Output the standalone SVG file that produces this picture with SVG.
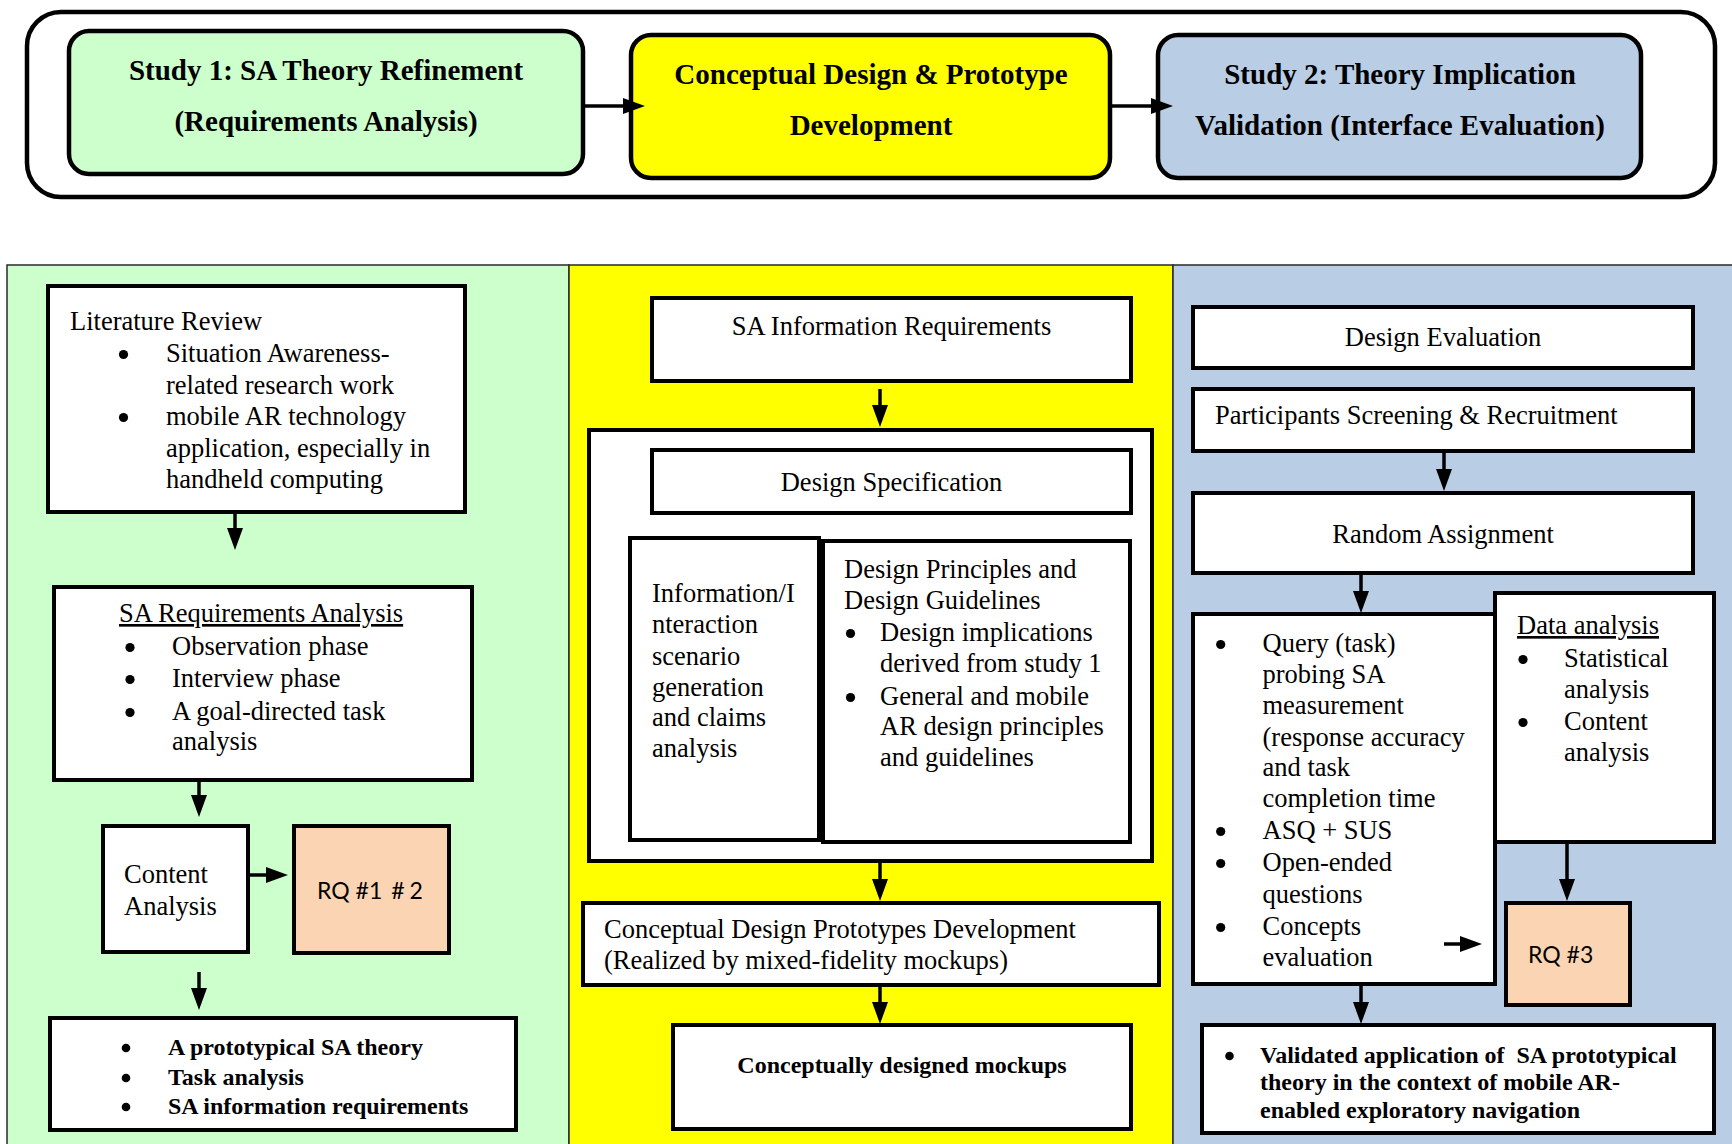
<svg xmlns="http://www.w3.org/2000/svg" width="1732" height="1144" viewBox="0 0 1732 1144">
  <style>
    .t { font-family: "Liberation Serif", "Times New Roman", serif; font-size: 26.5px; fill: #000; }
    .b { font-family: "Liberation Serif", "Times New Roman", serif; font-size: 24px; font-weight: bold; fill: #000; }
    .h { font-family: "Liberation Serif", "Times New Roman", serif; font-size: 29px; font-weight: bold; fill: #000; text-anchor: middle; }
    .rqt { font-family: Lato, "Open Sans", sans-serif; font-size: 23px; fill: #000; }
    .c { text-anchor: middle; }
    .u { text-decoration: underline; }
    .dot { fill: #000; }
    .box { fill: #fff; stroke: #000; stroke-width: 4; }
    .rq { fill: #FBD4B4; stroke: #000; stroke-width: 4; }
    .col { stroke: #2a2a2a; stroke-width: 1.5; }
    .phase { stroke: #000; stroke-width: 4.5; }
    .conn line { stroke: #000; stroke-width: 3.5; marker-end: url(#arrow); }
  </style>
  <defs>
    <marker id="arrow" markerUnits="userSpaceOnUse" markerWidth="22" markerHeight="16" refX="1" refY="8" orient="auto">
      <path d="M0,0 L22,8 L0,16 z" fill="#000"/>
    </marker>
  </defs>

  <rect width="1732" height="1144" fill="#fff"/>

  <!-- Phase overview strip -->
  <g id="phases">
    <rect x="27" y="12" width="1688" height="185" rx="34" fill="#fff" class="phase"/>
    <g id="phase-study1">
      <rect x="69" y="31" width="514" height="143" rx="20" fill="#CCFFCC" class="phase"/>
      <text class="h" x="326" y="80">Study 1: SA Theory Refinement</text>
      <text class="h" x="326" y="131">(Requirements Analysis)</text>
    </g>
    <g id="phase-design">
      <rect x="631" y="35" width="479" height="143" rx="20" fill="#FFFF00" class="phase"/>
      <text class="h" x="871" y="84">Conceptual Design &amp; Prototype</text>
      <text class="h" x="871" y="135">Development</text>
    </g>
    <g id="phase-study2">
      <rect x="1158" y="35" width="483" height="143" rx="20" fill="#B9CDE5" class="phase"/>
      <text class="h" x="1400" y="84">Study 2: Theory Implication</text>
      <text class="h" x="1400" y="135">Validation (Interface Evaluation)</text>
    </g>
  </g>

  <!-- Column backgrounds -->
  <g id="columns">
    <rect x="7" y="265" width="562" height="890" fill="#CCFFCC" class="col"/>
    <rect x="569" y="265" width="604" height="890" fill="#FFFF00" class="col"/>
    <rect x="1173" y="265" width="570" height="890" fill="#B9CDE5" class="col"/>
  </g>

  <!-- Study 1 column -->
  <g id="literature-review">
    <rect x="48" y="286" width="417" height="226" class="box"/>
    <text class="t" x="70" y="330">Literature Review</text>
    <circle class="dot" cx="123.5" cy="354.5" r="4.6"/>
    <text class="t" x="166" y="362">Situation Awareness-</text>
    <text class="t" x="166" y="393.5">related research work</text>
    <circle class="dot" cx="123.5" cy="417.5" r="4.6"/>
    <text class="t" x="166" y="425">mobile AR technology</text>
    <text class="t" x="166" y="456.5">application, especially in</text>
    <text class="t" x="166" y="488">handheld computing</text>
  </g>
  <g id="sa-requirements-analysis">
    <rect x="54" y="587" width="418" height="193" class="box"/>
    <text class="t u" x="119" y="622">SA Requirements Analysis</text>
    <circle class="dot" cx="130" cy="647.5" r="4.6"/>
    <text class="t" x="172" y="655">Observation phase</text>
    <circle class="dot" cx="130" cy="679.5" r="4.6"/>
    <text class="t" x="172" y="687">Interview phase</text>
    <circle class="dot" cx="130" cy="712.5" r="4.6"/>
    <text class="t" x="172" y="720">A goal-directed task</text>
    <text class="t" x="172" y="750">analysis</text>
  </g>
  <g id="content-analysis">
    <rect x="103" y="826" width="145" height="126" class="box"/>
    <text class="t" x="124" y="883">Content</text>
    <text class="t" x="124" y="915">Analysis</text>
  </g>
  <g id="rq-1-2">
    <rect x="294" y="826" width="155" height="127" class="rq"/>
    <text class="rqt" x="317" y="899">RQ #1<tspan dx="9">#</tspan><tspan dx="5">2</tspan></text>
  </g>
  <g id="study1-outcomes">
    <rect x="50" y="1018" width="466" height="112" class="box"/>
    <circle class="dot" cx="126" cy="1048" r="4.3"/>
    <text class="b" x="168" y="1055">A prototypical SA theory</text>
    <circle class="dot" cx="126" cy="1078" r="4.3"/>
    <text class="b" x="168" y="1085">Task analysis</text>
    <circle class="dot" cx="126" cy="1107" r="4.3"/>
    <text class="b" x="168" y="1114">SA information requirements</text>
  </g>

  <!-- Design column -->
  <g id="sa-information-requirements">
    <rect x="652" y="298" width="479" height="83" class="box"/>
    <text class="t c" x="891.5" y="335">SA Information Requirements</text>
  </g>
  <g id="design-container">
    <rect x="589" y="430" width="563" height="431" class="box"/>
  </g>
  <g id="design-specification">
    <rect x="652" y="450" width="479" height="63" class="box"/>
    <text class="t c" x="891.5" y="491">Design Specification</text>
  </g>
  <g id="interaction-scenarios">
    <rect x="630" y="538" width="189" height="302" class="box"/>
    <text class="t" x="652" y="602">Information/I</text>
    <text class="t" x="652" y="633">nteraction</text>
    <text class="t" x="652" y="665">scenario</text>
    <text class="t" x="652" y="696">generation</text>
    <text class="t" x="652" y="726">and claims</text>
    <text class="t" x="652" y="757">analysis</text>
  </g>
  <g id="design-principles">
    <rect x="823" y="541" width="307" height="301" class="box"/>
    <text class="t" x="844" y="578">Design Principles and</text>
    <text class="t" x="844" y="609">Design Guidelines</text>
    <circle class="dot" cx="850.5" cy="633.5" r="4.6"/>
    <text class="t" x="880" y="641">Design implications</text>
    <text class="t" x="880" y="672">derived from study 1</text>
    <circle class="dot" cx="850.5" cy="697.5" r="4.6"/>
    <text class="t" x="880" y="705">General and mobile</text>
    <text class="t" x="880" y="735">AR design principles</text>
    <text class="t" x="880" y="766">and guidelines</text>
  </g>
  <g id="prototype-development">
    <rect x="583" y="903" width="576" height="82" class="box"/>
    <text class="t" x="604" y="938">Conceptual Design Prototypes Development</text>
    <text class="t" x="604" y="969">(Realized by mixed-fidelity mockups)</text>
  </g>
  <g id="designed-mockups">
    <rect x="673" y="1025" width="458" height="104" class="box"/>
    <text class="b c" x="902" y="1073">Conceptually designed mockups</text>
  </g>

  <!-- Study 2 column -->
  <g id="design-evaluation">
    <rect x="1193" y="307" width="500" height="61" class="box"/>
    <text class="t c" x="1443" y="346">Design Evaluation</text>
  </g>
  <g id="participants-screening">
    <rect x="1193" y="389" width="500" height="62" class="box"/>
    <text class="t" x="1215" y="424">Participants Screening &amp; Recruitment</text>
  </g>
  <g id="random-assignment">
    <rect x="1193" y="493" width="500" height="80" class="box"/>
    <text class="t c" x="1443" y="543">Random Assignment</text>
  </g>
  <g id="measurements">
    <rect x="1193" y="614" width="302" height="370" class="box"/>
    <circle class="dot" cx="1220.7" cy="644.5" r="4.6"/>
    <text class="t" x="1262.5" y="652">Query (task)</text>
    <text class="t" x="1262.5" y="683">probing SA</text>
    <text class="t" x="1262.5" y="714">measurement</text>
    <text class="t" x="1262.5" y="746">(response accuracy</text>
    <text class="t" x="1262.5" y="776">and task</text>
    <text class="t" x="1262.5" y="807">completion time</text>
    <circle class="dot" cx="1220.7" cy="831.5" r="4.6"/>
    <text class="t" x="1262.5" y="839">ASQ + SUS</text>
    <circle class="dot" cx="1220.7" cy="863.5" r="4.6"/>
    <text class="t" x="1262.5" y="871">Open-ended</text>
    <text class="t" x="1262.5" y="903">questions</text>
    <circle class="dot" cx="1220.7" cy="927.5" r="4.6"/>
    <text class="t" x="1262.5" y="935">Concepts</text>
    <text class="t" x="1262.5" y="966">evaluation</text>
  </g>
  <g id="data-analysis">
    <rect x="1495" y="593" width="219" height="249" class="box"/>
    <text class="t u" x="1517" y="634">Data analysis</text>
    <circle class="dot" cx="1523" cy="659.5" r="4.6"/>
    <text class="t" x="1564" y="667">Statistical</text>
    <text class="t" x="1564" y="698">analysis</text>
    <circle class="dot" cx="1523" cy="722.5" r="4.6"/>
    <text class="t" x="1564" y="730">Content</text>
    <text class="t" x="1564" y="761">analysis</text>
  </g>
  <g id="rq-3">
    <rect x="1506" y="903" width="124" height="102" class="rq"/>
    <text class="rqt" x="1528" y="963">RQ #3</text>
  </g>
  <g id="study2-outcomes">
    <rect x="1202" y="1025" width="512" height="108" class="box"/>
    <circle class="dot" cx="1229.5" cy="1056" r="4.3"/>
    <text class="b" x="1260" y="1063">Validated application of <tspan dx="6">SA prototypical</tspan></text>
    <text class="b" x="1260" y="1090">theory in the context of mobile AR-</text>
    <text class="b" x="1260" y="1118">enabled exploratory navigation</text>
  </g>

  <!-- Connectors: each line ends where its arrowhead begins -->
  <g id="connectors" class="conn">
    <line x1="583" y1="106" x2="624" y2="106"/>
    <line x1="1110" y1="106" x2="1152" y2="106"/>
    <line x1="235" y1="512" x2="235" y2="529"/>
    <line x1="199" y1="780" x2="199" y2="796"/>
    <line x1="248" y1="875" x2="267" y2="875"/>
    <line x1="199" y1="972" x2="199" y2="989"/>
    <line x1="880" y1="389" x2="880" y2="406"/>
    <line x1="880" y1="861" x2="880" y2="880"/>
    <line x1="880" y1="985" x2="880" y2="1003"/>
    <line x1="1444" y1="451" x2="1444" y2="470"/>
    <line x1="1361" y1="573" x2="1361" y2="592"/>
    <line x1="1567" y1="842" x2="1567" y2="880"/>
    <line x1="1444" y1="944" x2="1461" y2="944"/>
    <line x1="1361" y1="984" x2="1361" y2="1003"/>
  </g>
</svg>
